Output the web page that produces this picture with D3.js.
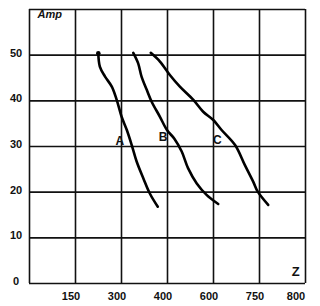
<!DOCTYPE html>
<html>
<head>
<meta charset="utf-8">
<script src="https://cdn.jsdelivr.net/npm/d3@7"></script>
<style>
  body { margin: 0; background: #fff; }
  text { font-family: "Liberation Sans", Arial, sans-serif; font-weight: bold; fill: #111; }
</style>
</head>
<body>
<script>

// x axis: Z, y axis: Amp
var xTicks = [150, 300, 450, 600, 750, 900];
var xTickLabels = ["150", "300", "400", "600", "750", "800"];
var yTicks = [0, 10, 20, 30, 40, 50];

var curveA = [[226, 50.3], [231, 47.4], [248, 45.2], [270, 43.0], [286, 40.1], [302, 36.4],
              [319, 33.5], [335, 30.2], [351, 26.6], [373, 22.9], [394, 19.6], [420, 16.7]];
var curveB = [[340, 50.4], [356, 48.1], [367, 45.2], [384, 42.3], [400, 39.7], [427, 36.4],
              [450, 33.5], [474, 31.6], [498, 28.8], [519, 25.1], [547, 21.8], [579, 19.3], [617, 17.3]];
var curveC = [[397, 50.4], [427, 48.5], [460, 45.5], [492, 43.0], [536, 40.1], [568, 37.5],
              [601, 35.7], [628, 33.5], [672, 30.2], [704, 25.8], [731, 22.2], [746, 20.0], [780, 17.1]];

var curveLabels = [
  {name: "A", x: 296, y: 30.3},
  {name: "B", x: 437, y: 31.0},
  {name: "C", x: 614, y: 30.5}
];

var size_graph = {x: 320, y: 306};
var margin = {top: 9, right: 15, bottom: 23, left: 29},
    width  = size_graph.x - margin.left - margin.right,
    height = size_graph.y - margin.top - margin.bottom;

var x = d3.scaleLinear().domain([0, 900]).range([0, width]);
var y = d3.scaleLinear().domain([0, 60]).range([height, 0]);

var svg = d3.select("body").append("svg")
    .attr("width", size_graph.x)
    .attr("height", size_graph.y)
  .append("g")
    .attr("transform", `translate(${margin.left},${margin.top})`);

// grid
svg.append("g")
  .call(d3.axisBottom(x).tickValues([0].concat(xTicks)).tickSize(-height).tickFormat(""))
  .attr("transform", `translate(0,${height})`)
  .call(g => g.select(".domain").remove())
  .selectAll("line").attr("stroke", "#111").attr("stroke-width", 1.6);

svg.append("g")
  .call(d3.axisLeft(y).tickValues(yTicks.concat([60])).tickSize(-width).tickFormat(""))
  .call(g => g.select(".domain").remove())
  .selectAll("line").attr("stroke", "#111").attr("stroke-width", 1.6);

// tick labels
svg.selectAll(".xl")
  .data(xTicks)
  .enter().append("text")
  .attr("x", (d, i) => x(d) - (i === xTicks.length - 1 ? 9 : 4))
  .attr("y", height + 17)
  .attr("text-anchor", "middle")
  .attr("font-size", 11)
  .text((d, i) => xTickLabels[i]);

svg.selectAll(".yl")
  .data(yTicks)
  .enter().append("text")
  .attr("x", -13)
  .attr("y", d => y(d) + 2)
  .attr("text-anchor", "middle")
  .attr("font-size", 11)
  .text(d => d);

// axis names
svg.append("text")
  .attr("x", x(870))
  .attr("y", y(1.6))
  .attr("text-anchor", "middle")
  .attr("font-size", 13)
  .text("Z");

svg.append("text")
  .attr("x", x(28))
  .attr("y", y(58))
  .attr("font-family", "'DejaVu Serif', serif")
  .attr("font-style", "italic")
  .attr("font-weight", "normal")
  .attr("font-size", 11)
  .text("Amp");

// curves
var line = d3.line()
  .x(d => x(d[0]))
  .y(d => y(d[1]))
  .curve(d3.curveCatmullRom);

[curveA, curveB, curveC].forEach(c => {
  svg.append("path")
    .datum(c)
    .attr("d", line)
    .attr("fill", "none")
    .attr("stroke", "#000")
    .attr("stroke-width", 2.6)
    .attr("stroke-linecap", "round");
});

svg.append("circle")
  .attr("cx", x(curveA[0][0]))
  .attr("cy", y(curveA[0][1]))
  .attr("r", 2.3)
  .attr("fill", "#000");

svg.selectAll(".cl")
  .data(curveLabels)
  .enter().append("text")
  .attr("x", d => x(d.x))
  .attr("y", d => y(d.y))
  .attr("text-anchor", "middle")
  .attr("font-size", 12)
  .text(d => d.name);

</script>
</body>
</html>
